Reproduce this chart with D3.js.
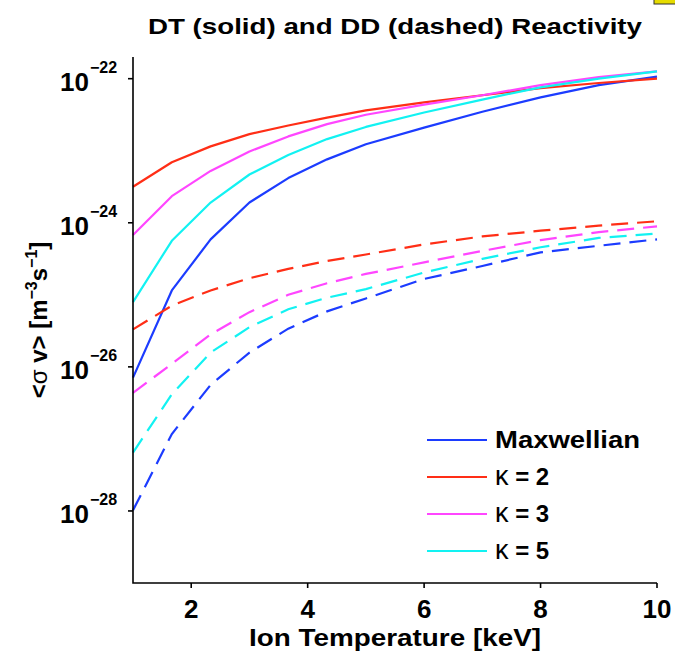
<!DOCTYPE html>
<html>
<head>
<meta charset="utf-8">
<script src="https://cdn.jsdelivr.net/npm/d3@7"></script>
<style>
  body { margin: 0; background: #fff; }
  svg text { font-family: "Liberation Sans", Arial, Helvetica, sans-serif; font-weight: bold; fill: #000; }
</style>
</head>
<body>
<div id="chart"></div>
<script>
// === DATA ===
const temperature = [1, 1.667, 2.333, 3, 3.667, 4.333, 5, 6, 7, 8, 9, 10];

// DT reactivity (solid)
const dtMaxwellian = [7.08e-27, 1.15e-25, 5.89e-25, 1.91e-24, 4.17e-24, 7.59e-24, 1.23e-23, 2.09e-23, 3.47e-23, 5.50e-23, 8.13e-23, 1.07e-22];
const dtKappa2 = [3.16e-24, 6.92e-24, 1.15e-23, 1.70e-23, 2.24e-23, 2.88e-23, 3.63e-23, 4.68e-23, 5.89e-23, 7.41e-23, 8.71e-23, 1.00e-22];
const dtKappa3 = [6.76e-25, 2.34e-24, 5.25e-24, 9.77e-24, 1.58e-23, 2.34e-23, 3.16e-23, 4.37e-23, 5.89e-23, 8.13e-23, 1.05e-22, 1.26e-22];
const dtKappa5 = [7.94e-26, 5.62e-25, 1.91e-24, 4.68e-24, 8.71e-24, 1.45e-23, 2.14e-23, 3.39e-23, 5.13e-23, 7.59e-23, 1.00e-22, 1.26e-22];

// DD reactivity (dashed)
const ddMaxwellian = [1.02e-28, 1.17e-27, 5.62e-27, 1.58e-26, 3.39e-26, 5.89e-26, 8.91e-26, 1.66e-25, 2.51e-25, 3.89e-25, 4.79e-25, 5.89e-25];
const ddKappa2 = [3.31e-26, 7.08e-26, 1.15e-25, 1.70e-25, 2.29e-25, 2.95e-25, 3.63e-25, 5.01e-25, 6.46e-25, 7.76e-25, 9.12e-25, 1.05e-24];
const ddKappa3 = [4.37e-27, 1.10e-26, 2.82e-26, 5.75e-26, 1.00e-25, 1.45e-25, 1.95e-25, 2.82e-25, 4.07e-25, 5.75e-25, 7.41e-25, 8.91e-25];
const ddKappa5 = [6.46e-28, 4.17e-27, 1.58e-26, 3.55e-26, 6.31e-26, 9.12e-26, 1.20e-25, 2.04e-25, 3.16e-25, 4.57e-25, 6.17e-25, 7.08e-25];

const seriesNames = ["Maxwellian", "κ = 2", "κ = 3", "κ = 5"];
const seriesColors = ["#1c3cff", "#ff2e16", "#ff46ff", "#12f2f2"];

const xTicks = [2, 4, 6, 8, 10];
const yTicks = [1e-28, 1e-26, 1e-24, 1e-22];
const yTickExps = ["−28", "−26", "−24", "−22"];

// === LAYOUT ===
const W = 675, H = 658;
const plotL = 133, plotR = 657, plotT = 57, plotB = 583;

const svg = d3.select("#chart").append("svg")
    .attr("width", W)
    .attr("height", H);

const x = d3.scaleLinear().domain([1, 10]).range([plotL, plotR]);
const y = d3.scaleLog().domain([1e-29, 2e-22]).range([plotB, plotT]);

const line = d3.line()
    .x((d, i) => x(temperature[i]))
    .y(d => y(d));

// small yellow marker in the top-right corner
svg.append("rect")
    .attr("x", 654).attr("y", -1)
    .attr("width", 22).attr("height", 5)
    .attr("fill", "#e6dc00")
    .attr("stroke", "#333")
    .attr("stroke-width", 1);

// === TITLE ===
svg.append("text")
    .attr("x", (plotL + plotR) / 2)
    .attr("y", 34)
    .attr("text-anchor", "middle")
    .attr("font-size", "22px")
    .attr("textLength", 494)
    .attr("lengthAdjust", "spacingAndGlyphs")
    .text("DT (solid) and DD (dashed) Reactivity");

// === LINES ===
const dtSeries = [dtMaxwellian, dtKappa2, dtKappa3, dtKappa5];
const ddSeries = [ddMaxwellian, ddKappa2, ddKappa3, ddKappa5];

svg.append("g").selectAll("path")
    .data(dtSeries)
    .join("path")
    .attr("d", line)
    .attr("fill", "none")
    .attr("stroke", (d, i) => seriesColors[i])
    .attr("stroke-width", 2.2)
    .attr("stroke-linejoin", "round");

svg.append("g").selectAll("path")
    .data(ddSeries)
    .join("path")
    .attr("d", line)
    .attr("fill", "none")
    .attr("stroke", (d, i) => seriesColors[i])
    .attr("stroke-width", 2.2)
    .attr("stroke-dasharray", "17,9");

// === AXES ===
const axisG = svg.append("g")
    .attr("stroke", "#000")
    .attr("stroke-width", 1.6)
    .attr("fill", "none");

axisG.append("path").attr("d", `M${plotL},${plotT}V${plotB}H${plotR}`);

axisG.selectAll(".ytick")
    .data(yTicks)
    .join("line")
    .attr("x1", plotL - 5).attr("x2", plotL)
    .attr("y1", d => y(d)).attr("y2", d => y(d));

axisG.selectAll(".xtick")
    .data(xTicks)
    .join("line")
    .attr("x1", d => x(d)).attr("x2", d => x(d))
    .attr("y1", plotB).attr("y2", plotB + 5);

// y tick labels: 10 with superscript exponent
const yLab = svg.append("g");
yTicks.forEach((v, i) => {
    yLab.append("text")
        .attr("x", 89)
        .attr("y", y(v) + 12)
        .attr("text-anchor", "end")
        .attr("font-size", "26px")
        .text("10");
    yLab.append("text")
        .attr("x", 90)
        .attr("y", y(v) - 6)
        .attr("font-size", "16px")
        .text(yTickExps[i]);
});

// x tick labels
svg.append("g").selectAll("text")
    .data(xTicks)
    .join("text")
    .attr("x", d => x(d))
    .attr("y", 618)
    .attr("text-anchor", "middle")
    .attr("font-size", "26px")
    .text(d => d);

// x label
svg.append("text")
    .attr("x", (plotL + plotR) / 2)
    .attr("y", 646)
    .attr("text-anchor", "middle")
    .attr("font-size", "24px")
    .attr("textLength", 292)
    .attr("lengthAdjust", "spacingAndGlyphs")
    .text("Ion Temperature [keV]");

// y label
const yl = svg.append("text")
    .attr("transform", "translate(47,320) rotate(-90)")
    .attr("text-anchor", "middle")
    .attr("font-size", "24px");
yl.append("tspan").text("<");
yl.append("tspan").attr("font-weight", "normal").text("σ");
yl.append("tspan").text(" v> [m");
yl.append("tspan").attr("dy", -10).attr("font-size", "16px").text("−3");
yl.append("tspan").attr("dy", 10).text("s");
yl.append("tspan").attr("dy", -10).attr("font-size", "16px").text("−1");
yl.append("tspan").attr("dy", 10).text("]");

// === LEGEND ===
const legendX = 427, legendY = 440, legendStep = 37;
const legend = svg.append("g");
seriesNames.forEach((name, i) => {
    const ly = legendY + i * legendStep;
    legend.append("line")
        .attr("x1", legendX).attr("x2", legendX + 60)
        .attr("y1", ly).attr("y2", ly)
        .attr("stroke", seriesColors[i])
        .attr("stroke-width", 2.2);
    const t = legend.append("text")
        .attr("x", 495)
        .attr("y", ly + 8)
        .attr("font-size", "24px");
    if (name.startsWith("κ")) {
        t.append("tspan").attr("font-weight", "normal").attr("font-size", "27px").text("κ");
        t.append("tspan").text(name.slice(1));
    } else {
        t.attr("textLength", 145).attr("lengthAdjust", "spacingAndGlyphs").text(name);
    }
});
</script>
</body>
</html>
